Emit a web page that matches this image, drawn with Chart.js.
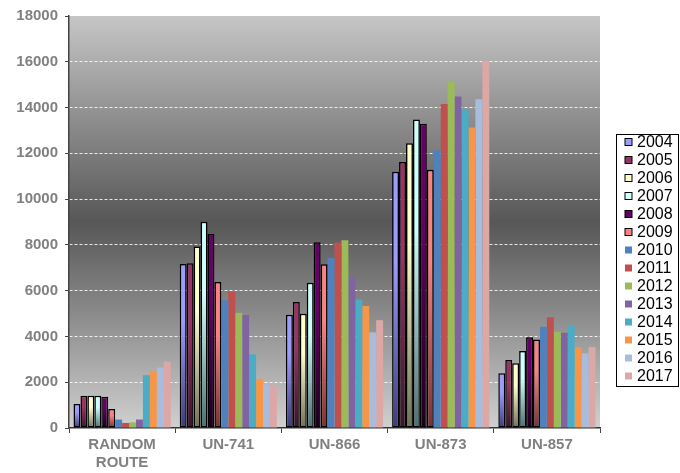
<!DOCTYPE html>
<html>
<head>
<meta charset="utf-8">
<script src="https://cdn.jsdelivr.net/npm/chart.js@4/dist/chart.umd.min.js"></script>
<style>
html,body{margin:0;padding:0;background:#fff;}
#wrap{width:680px;height:473px;position:relative;}
</style>
</head>
<body>
<div id="wrap"><canvas id="c" width="680" height="473"></canvas></div>
<script>
const categories = [["RANDOM","ROUTE"], "UN-741", "UN-866", "UN-873", "UN-857"];
const years = ["2004","2005","2006","2007","2008","2009","2010","2011","2012","2013","2014","2015","2016","2017"];
const v2004 = [1050, 7160, 4950, 11200, 2390];
const v2005 = [1410, 7200, 5500, 11620, 2970];
const v2006 = [1410, 7930, 4990, 12440, 2830];
const v2007 = [1410, 9010, 6350, 13480, 3360];
const v2008 = [1370, 8480, 8110, 13290, 3970];
const v2009 = [830, 6380, 7150, 11280, 3870];
const v2010 = [370, 5580, 7430, 12130, 4420];
const v2011 = [220, 5960, 8100, 14150, 4840];
const v2012 = [250, 5030, 8200, 15120, 4200];
const v2013 = [370, 4940, 6610, 14480, 4160];
const v2014 = [2310, 3220, 5600, 13910, 4490];
const v2015 = [2500, 2150, 5330, 13130, 3530];
const v2016 = [2640, 1900, 4180, 14360, 3260];
const v2017 = [2900, 1870, 4710, 16050, 3540];
const seriesValues = [v2004,v2005,v2006,v2007,v2008,v2009,v2010,v2011,v2012,v2013,v2014,v2015,v2016,v2017];
const yTicks = [0,2000,4000,6000,8000,10000,12000,14000,16000,18000];

const topColors = ["#9c9cff","#993366","#ffffcc","#ccffff","#660066","#ff8080",
  "#4f81bd","#c0504d","#9bbb59","#8064a2","#4bacc6","#f79646","#a8bcdd","#dca7a7"];
const bottomColors = ["#3c3c78","#3a1428","#707058","#4a7070","#1a001a","#7a3030"];

function barFill(i){
  if (i >= 6) return topColors[i];
  return function(ctx){
    const chart = ctx.chart;
    const ys = chart.scales && chart.scales.y;
    if (!ys || ctx.raw === undefined || !chart.chartArea) return topColors[i];
    const yTop = ys.getPixelForValue(ctx.raw);
    const yBot = ys.getPixelForValue(0);
    if (!isFinite(yTop) || !isFinite(yBot) || yBot - yTop < 1) return topColors[i];
    const g = chart.ctx.createLinearGradient(0, yTop, 0, yBot);
    g.addColorStop(0, topColors[i]);
    g.addColorStop(0.35, topColors[i]);
    g.addColorStop(1, bottomColors[i]);
    return g;
  };
}

const datasets = years.map((y, i) => ({
  label: y,
  data: seriesValues[i],
  backgroundColor: barFill(i),
  borderColor: i < 6 ? "#000000" : "rgba(0,0,0,0)",
  borderWidth: i < 6 ? 1.5 : 0,
  borderSkipped: false,
  categoryPercentage: 0.915,
  barPercentage: 1.0
}));

const bgPlugin = {
  id: "bg",
  beforeDraw(chart){
    const a = chart.chartArea, c = chart.ctx;
    const g = c.createLinearGradient(0, a.top, 0, a.bottom);
    g.addColorStop(0, "#c6c6c6");
    g.addColorStop(0.25, "#8e8e8e");
    g.addColorStop(0.5, "#575757");
    g.addColorStop(0.72, "#8a8a8a");
    g.addColorStop(1, "#d0d0d0");
    c.save();
    c.fillStyle = g;
    c.fillRect(a.left, a.top, a.right - a.left, a.bottom - a.top);
    c.restore();
  }
};

const legendPlugin = {
  id: "customLegend",
  afterDraw(chart){
    const c = chart.ctx;
    c.save();
    c.strokeStyle = "#000";
    c.lineWidth = 1;
    c.strokeRect(616.5, 134.5, 62, 252);
    c.font = "16px 'Liberation Sans', Arial, sans-serif";
    c.textBaseline = "middle";
    c.textAlign = "left";
    years.forEach((y, i) => {
      const cy = 142 + i * 18;
      c.fillStyle = topColors[i];
      c.fillRect(625, cy - 3.5, 7, 7);
      if (i < 6) {
        c.strokeStyle = "#000";
        c.lineWidth = 1;
        c.strokeRect(625, cy - 3.5, 7, 7);
      }
      c.fillStyle = "#000";
      c.fillText(y, 637, cy + 1);
    });
    c.restore();
  }
};

new Chart(document.getElementById("c"), {
  type: "bar",
  data: { labels: categories, datasets: datasets },
  options: {
    responsive: false,
    animation: false,
    devicePixelRatio: 1,
    layout: { padding: { top: 16, right: 80, left: 0, bottom: 0 } },
    plugins: { legend: { display: false }, tooltip: { enabled: false } },
    scales: {
      x: {
        grid: { display: true, drawOnChartArea: false, drawTicks: true, tickLength: 5, tickColor: "#444", offset: true },
        border: { display: true, color: "#333", width: 1.5 },
        ticks: { color: "#808080", font: { family: "'Liberation Sans', Arial, sans-serif", size: 15, weight: "bold" }, padding: 3, maxRotation: 0 },
        afterFit(s){ s.height = 45; }
      },
      y: {
        min: 0, max: 18000,
        afterBuildTicks(s){ s.ticks = yTicks.map(v => ({ value: v })); },
        grid: {
          color: (ctx) => (ctx.tick && (ctx.tick.value === 0 || ctx.tick.value === 18000)) ? "rgba(0,0,0,0)" : "rgba(255,255,255,0.85)",
          lineWidth: 1, drawTicks: true, tickLength: 4, tickColor: "#444", tickBorderDash: []
        },
        border: { display: true, color: "#444", width: 1.5, dash: [3, 2] },
        ticks: {
          color: "#808080",
          font: { family: "'Liberation Sans', Arial, sans-serif", size: 15, weight: "bold" },
          padding: 7,
          callback: (v) => String(v)
        },
        afterFit(s){ s.width = 69; }
      }
    }
  },
  plugins: [bgPlugin, legendPlugin]
});
</script>
</body>
</html>
